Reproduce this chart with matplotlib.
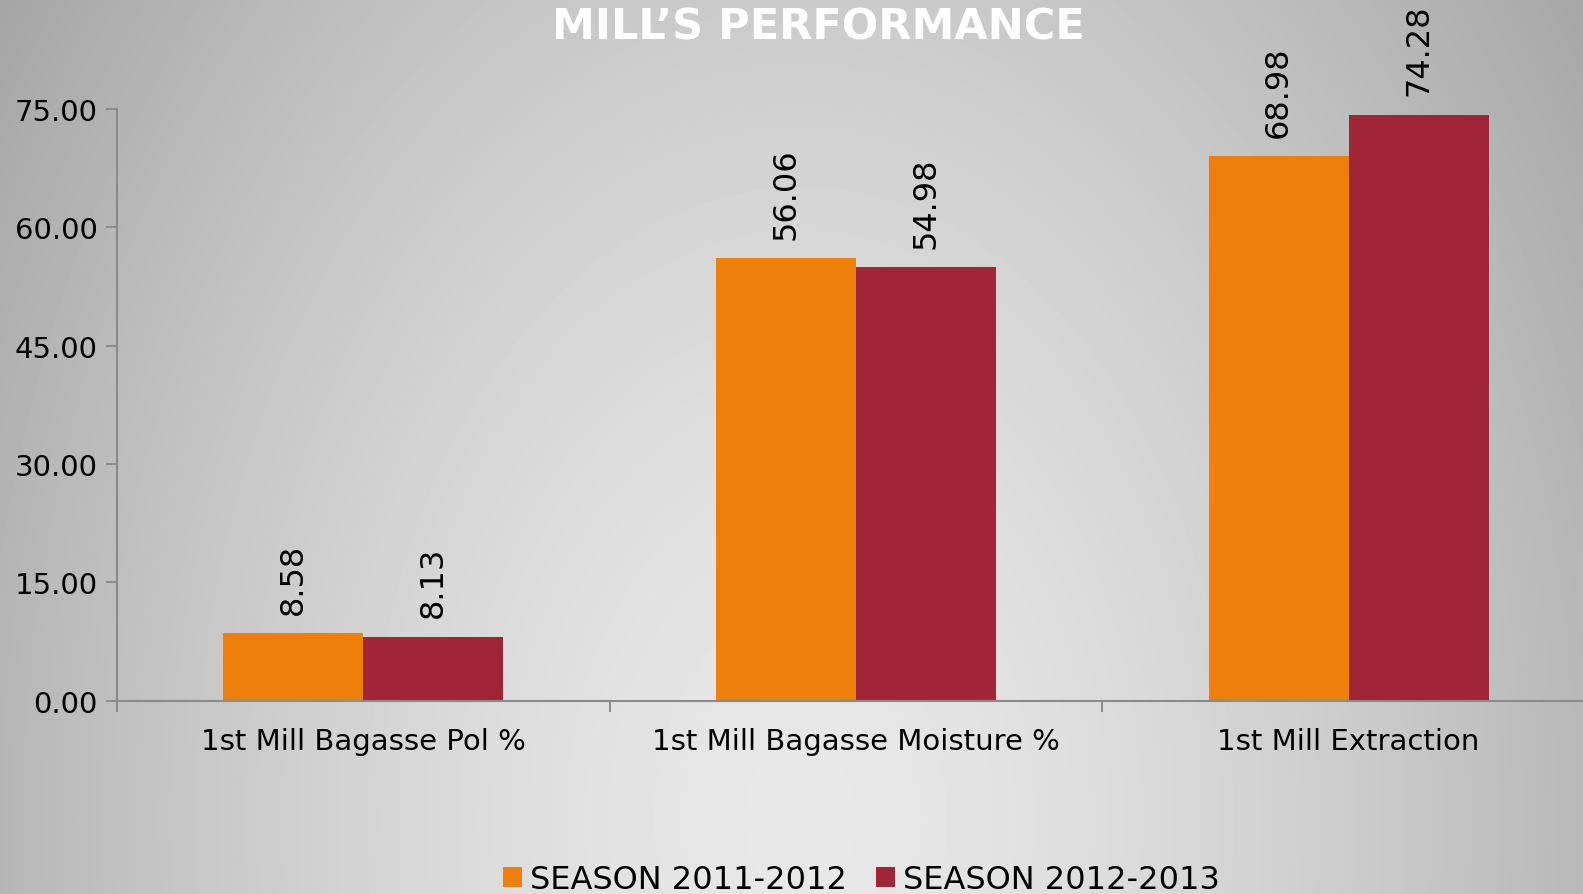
import numpy as np
import matplotlib
matplotlib.use("Agg")
import matplotlib.pyplot as plt

categories = ['1st Mill Bagasse Pol %', '1st Mill Bagasse Moisture %', '1st Mill Extraction']
season_labels = ['SEASON 2011-2012', 'SEASON 2012-2013']
season_2011 = [8.58, 56.06, 68.98]
season_2012 = [8.13, 54.98, 74.28]
y_ticks = [0, 15, 30, 45, 60, 75]

orange = '#EF7F0B'
maroon = '#A02637'
axis_grey = '#8a8a8a'

W, H = 1583, 895
fig = plt.figure(figsize=(W / 100, H / 100), dpi=100)

# soft radial backdrop, brightest near the bottom centre
bg = fig.add_axes([0, 0, 1, 1], zorder=-10)
yy, xx = np.mgrid[0:H, 0:W]
r = np.sqrt(((xx - 800) / 945.0) ** 2 + ((yy - 820) / 1381.0) ** 2)
shade = np.clip(232 - 64 * r ** 1.5, 160, 240) / 255.0
bg.imshow(shade, cmap='gray', vmin=0, vmax=1, aspect='auto', interpolation='bilinear')
bg.axis('off')

ax = fig.add_axes([117 / W, 1 - 701.7 / H, (1595 - 117) / W, (701.7 - 110) / H])
ax.patch.set_alpha(0)

x = np.arange(len(categories))
bw = 0.284
b1 = ax.bar(x - bw / 2, season_2011, bw, color=orange, label=season_labels[0])
b2 = ax.bar(x + bw / 2, season_2012, bw, color=maroon, label=season_labels[1])

for bars, vals in [(b1, season_2011), (b2, season_2012)]:
    for rect, v in zip(bars, vals):
        ax.annotate('%.2f' % v, (rect.get_x() + rect.get_width() / 2, v),
                    xytext=(0, 14), textcoords='offset points',
                    rotation=90, ha='center', va='bottom', fontsize=23, color='black')

ax.set_xlim(-0.5, 2.5)
ax.set_ylim(0, 75)
ax.set_yticks(y_ticks)
ax.set_yticklabels(['%.2f' % t for t in y_ticks], fontsize=21)

# boundary ticks as major, category names on minor ticks
ax.set_xticks([-0.5, 0.5, 1.5, 2.5])
ax.set_xticklabels([])
ax.set_xticks(x, minor=True)
ax.set_xticklabels(categories, minor=True, fontsize=21)
ax.tick_params(axis='x', which='major', length=8, width=1.4, color=axis_grey, direction='out')
ax.tick_params(axis='x', which='minor', length=0, pad=19)
ax.tick_params(axis='y', length=8, width=1.4, color=axis_grey, pad=6)

for side in ['top', 'right']:
    ax.spines[side].set_visible(False)
for side in ['left', 'bottom']:
    ax.spines[side].set_color(axis_grey)
    ax.spines[side].set_linewidth(1.5)

fig.text(818 / W, 1 - 40 / H, 'MILL\u2019S PERFORMANCE', color='white',
         fontsize=31, fontweight='bold', ha='center', va='baseline')

fig.legend(handles=[b1, b2], loc='center', bbox_to_anchor=(0.544, 1 - 881 / H),
           ncol=2, frameon=False, fontsize=23, handlelength=0.6, handleheight=0.6,
           handletextpad=0.25, columnspacing=0.9)

fig.savefig('out.png', dpi=100)
